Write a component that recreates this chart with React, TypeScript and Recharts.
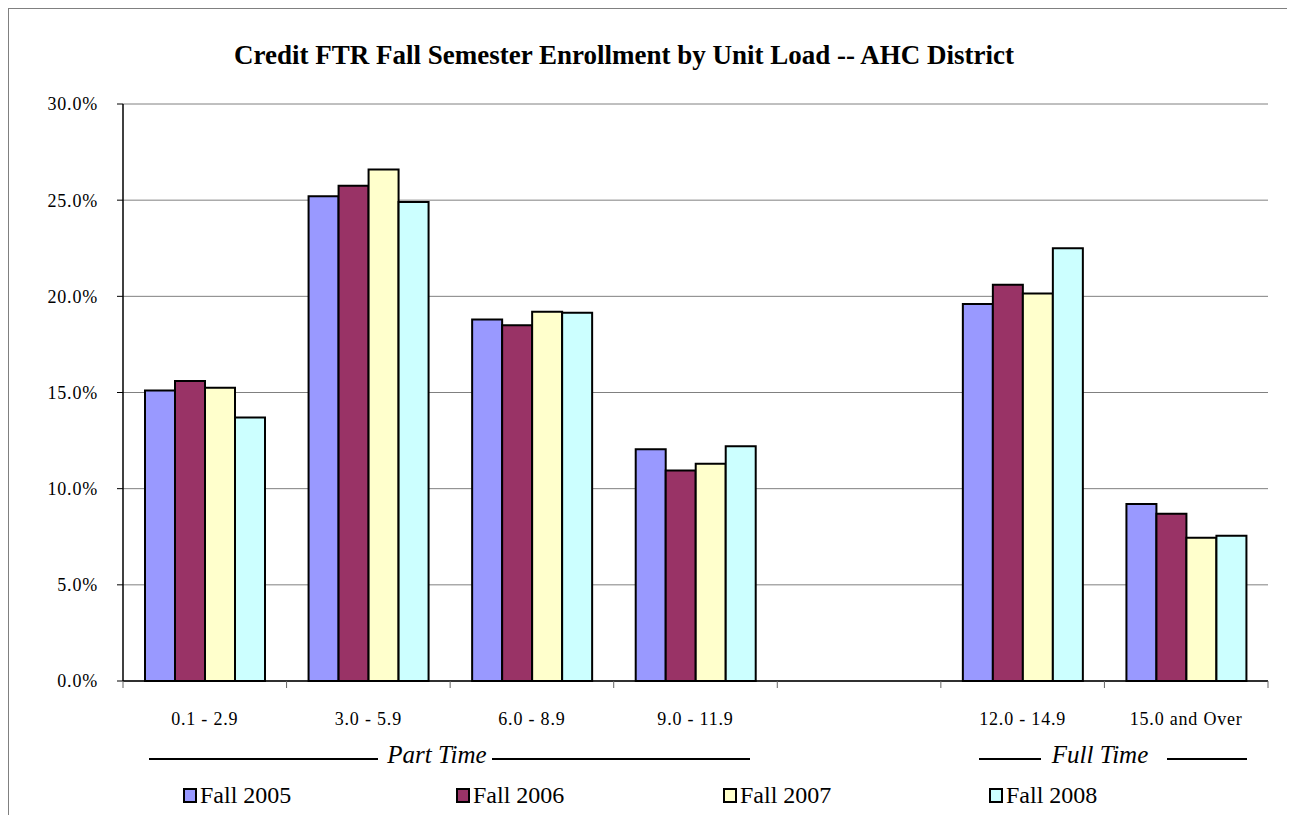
import React from "react";
import { BarChart, Bar, XAxis, YAxis, CartesianGrid } from "recharts";

const categories = ["0.1 - 2.9", "3.0 - 5.9", "6.0 - 8.9", "9.0 - 11.9", "", "12.0 - 14.9", "15.0 and Over"];
const fall2005 = [15.1, 25.2, 18.8, 12.05, null, 19.6, 9.2];
const fall2006 = [15.6, 25.75, 18.5, 10.95, null, 20.6, 8.7];
const fall2007 = [15.25, 26.6, 19.2, 11.3, null, 20.15, 7.45];
const fall2008 = [13.7, 24.9, 19.15, 12.2, null, 22.5, 7.55];
const yTicks = [0, 5, 10, 15, 20, 25, 30];

const SERIES = [
  { key: "f2005", label: "Fall 2005", fill: "#9999FF" },
  { key: "f2006", label: "Fall 2006", fill: "#993366" },
  { key: "f2007", label: "Fall 2007", fill: "#FFFFCC" },
  { key: "f2008", label: "Fall 2008", fill: "#CCFFFF" },
];

const data = categories.map((name, i) => ({
  name: name || " ",
  f2005: fall2005[i],
  f2006: fall2006[i],
  f2007: fall2007[i],
  f2008: fall2008[i],
}));

const FONT = "Liberation Serif, Times New Roman, serif";
const PLOT_W = 1145;
const BAND = PLOT_W / categories.length;

function CategoryTick(props: any) {
  const { x, y, payload, index } = props;
  return (
    <g>
      <line x1={x - BAND / 2} x2={x - BAND / 2} y1={y - 8} y2={y - 1} stroke="#666" />
      {index === categories.length - 1 && (
        <line x1={x + BAND / 2} x2={x + BAND / 2} y1={y - 8} y2={y - 1} stroke="#666" />
      )}
      <text
        x={x}
        y={y + 36}
        textAnchor="middle"
        style={{ fontSize: 18, fontFamily: FONT, letterSpacing: 0.8 }}
        fill="#000"
      >
        {payload.value}
      </text>
    </g>
  );
}

function GroupLabel({ lineL, text, lineR, center }: any) {
  return (
    <>
      <div style={{ position: "absolute", left: lineL[0], width: lineL[1] - lineL[0], top: 749, borderTop: "2px solid #000" }} />
      <div style={{ position: "absolute", left: center - 100, width: 200, top: 732, textAlign: "center", fontStyle: "italic", fontSize: 25, fontFamily: FONT }}>
        {text}
      </div>
      <div style={{ position: "absolute", left: lineR[0], width: lineR[1] - lineR[0], top: 749, borderTop: "2px solid #000" }} />
    </>
  );
}

const legendX = [174, 447, 714, 980];

export default function App() {
  return (
    <div style={{ position: "relative", width: 1281, height: 815, border: "1px solid #808080", borderBottom: "none", background: "#fff", fontFamily: FONT }}>
      <div style={{ position: "absolute", left: 0, width: 1230, top: 31, textAlign: "center", fontWeight: "bold", fontSize: 27 }}>
        Credit FTR Fall Semester Enrollment by Unit Load -- AHC District
      </div>
      <BarChart
        width={1281}
        height={805}
        data={data}
        margin={{ top: 95, right: 22, left: 54, bottom: 93 }}
        barCategoryGap={22}
        barGap={0}
      >
        <CartesianGrid vertical={false} stroke="#808080" strokeWidth={1} />
        <XAxis
          dataKey="name"
          axisLine={{ stroke: "#000", strokeWidth: 1.5 }}
          tickLine={false}
          tick={<CategoryTick />}
          height={40}
          interval={0}
        />
        <YAxis
          domain={[0, 30]}
          ticks={yTicks}
          tickFormatter={(v: number) => v.toFixed(1) + "%"}
          width={60}
          axisLine={{ stroke: "#000", strokeWidth: 1.5 }}
          tickLine={{ stroke: "#000" }}
          tickSize={6}
          tickMargin={19}
          tick={{ fill: "#000", style: { fontSize: 18, fontFamily: FONT, letterSpacing: 0.8 } }}
        />
        <YAxis
          yAxisId="right"
          orientation="right"
          domain={[0, 30]}
          width={0}
          tick={false}
          tickLine={false}
          axisLine={{ stroke: "#808080" }}
        />
        {SERIES.map((s) => (
          <Bar key={s.key} dataKey={s.key} fill={s.fill} stroke="#000" strokeWidth={2} isAnimationActive={false} />
        ))}
      </BarChart>
      <GroupLabel lineL={[140, 369]} lineR={[483, 741]} center={428} text="Part Time" />
      <GroupLabel lineL={[970, 1032]} lineR={[1158, 1238]} center={1091} text="Full Time" />
      {SERIES.map((s, i) => (
        <div key={s.key} style={{ position: "absolute", left: legendX[i], top: 773, display: "flex", alignItems: "center", fontSize: 24 }}>
          <span style={{ display: "inline-block", width: 10, height: 11, border: "2px solid #000", background: s.fill, marginRight: 3 }} />
          {s.label}
        </div>
      ))}
    </div>
  );
}
